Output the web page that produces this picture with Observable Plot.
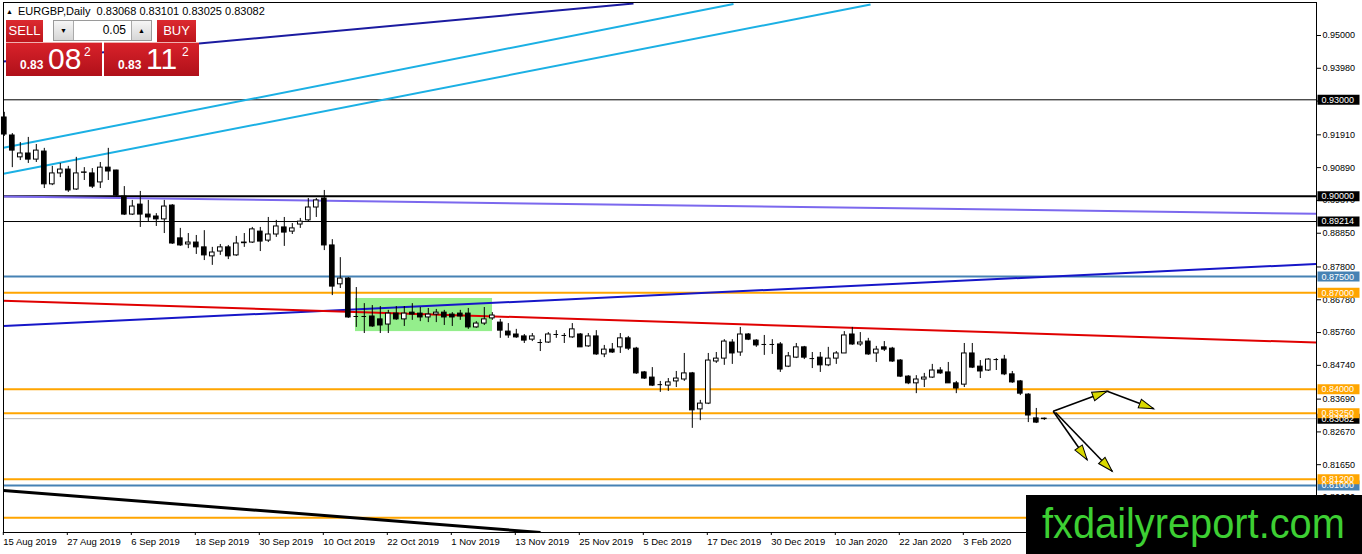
<!DOCTYPE html>
<html>
<head>
<meta charset="utf-8">
<script src="https://cdn.jsdelivr.net/npm/d3@7"></script>
<script src="https://cdn.jsdelivr.net/npm/@observablehq/plot@0.6"></script>
<style>
html,body{margin:0;padding:0;background:#fff;}
#wrap{position:relative;width:1362px;height:554px;overflow:hidden;font-family:"Liberation Sans",Arial,sans-serif;}
#chart svg{display:block;}
#hdr{position:absolute;left:6px;top:5px;font-size:11px;line-height:12px;white-space:nowrap;color:#000;}
#hdr .tri{font-size:7px;position:relative;top:-1px;margin-right:5px;}
.btn{position:absolute;top:20px;height:22px;background:linear-gradient(#dc2a30,#bc141b);color:#fff;font-size:13px;line-height:22px;text-align:center;}
.sell{left:6px;width:37px;}
.buy{left:157px;width:39px;}
.ctl{position:absolute;left:53px;top:20px;width:99px;height:21px;background:#fff;border:1px solid #9a9a9a;box-sizing:border-box;}
.ctl .dn,.ctl .up{position:absolute;top:0;width:19px;height:19px;background:linear-gradient(#f6f6f6,#d6d6d6);font-size:7px;line-height:19px;text-align:center;color:#000;}
.ctl .dn{left:0;border-right:1px solid #aaa;}
.ctl .up{right:0;border-left:1px solid #aaa;}
.ctl .lot{position:absolute;right:25px;top:0;line-height:19px;font-size:12px;color:#000;}
.px{position:absolute;top:42px;height:34px;background:linear-gradient(#d8222a,#b0101a);color:#fff;border-top:1px solid #f0b0b0;box-sizing:border-box;}
.pl{left:6px;width:96px;}
.pr{left:104px;width:95px;}
.px .sm{position:absolute;left:14px;top:15px;font-size:12px;font-weight:bold;line-height:14px;}
.px .big{position:absolute;left:42px;top:1px;font-size:30px;line-height:30px;}
.px .sup{position:absolute;left:78px;top:3px;font-size:12px;line-height:12px;}
#banner{position:absolute;left:1026px;top:495px;width:336px;height:59px;background:#000;}
#banner span{position:absolute;left:16px;top:4px;font-size:43px;line-height:48px;color:#3dcf33;transform:scaleX(0.925);transform-origin:left top;white-space:nowrap;}
</style>
</head>
<body>
<div id="wrap">
  <div id="chart"></div>
  <div id="hdr"><span class="tri">▲</span>EURGBP,Daily&nbsp; 0.83068 0.83101 0.83025 0.83082</div>
  <div class="btn sell">SELL</div>
  <div class="ctl"><span class="dn">▼</span><span class="lot">0.05</span><span class="up">▲</span></div>
  <div class="btn buy">BUY</div>
  <div class="px pl"><span class="sm">0.83</span><span class="big">08</span><span class="sup">2</span></div>
  <div class="px pr"><span class="sm">0.83</span><span class="big">11</span><span class="sup">2</span></div>
  <div id="banner"><span>fxdailyreport.com</span></div>
</div>
<script>
// ---- Daily candles (bar index 0 = 15 Aug 2019) ----
const open = [0.9245,0.9189,0.9121,0.9133,0.9114,0.9139,0.9037,0.9071,0.9083,0.9021,
0.9074,0.9071,0.9043,0.9089,0.9080,0.8999,0.8943,0.8974,0.8943,0.8937,
0.8928,0.8971,0.8869,0.8850,0.8856,0.8841,0.8813,0.8828,0.8841,0.8816,
0.8856,0.8856,0.8890,0.8862,0.8881,0.8903,0.8890,0.8912,0.8925,0.8965,
0.8993,0.8847,0.8726,0.8744,0.8626,0.8626,0.8626,0.8617,0.8601,0.8635,
0.8617,0.8638,0.8635,0.8623,0.8632,0.8638,0.8632,0.8635,0.8635,0.8592,
0.8604,0.8620,0.8607,0.8579,0.8570,0.8564,0.8554,0.8545,0.8545,0.8570,
0.8567,0.8561,0.8570,0.8533,0.8564,0.8508,0.8523,0.8530,0.8558,0.8526,
0.8452,0.8436,0.8414,0.8411,0.8424,0.8430,0.8449,0.8337,0.8355,0.8486,
0.8495,0.8545,0.8514,0.8570,0.8551,0.8539,0.8539,0.8539,0.8470,0.8498,
0.8530,0.8495,0.8498,0.8474,0.8495,0.8511,0.8570,0.8539,0.8548,0.8511,
0.8530,0.8526,0.8489,0.8439,0.8418,0.8430,0.8436,0.8458,0.8452,0.8418,
0.8414,0.8511,0.8470,0.8458,0.8492,0.8492,0.8446,0.8424,0.8383,0.8309,
0.83068];
const high = [0.9261,0.9195,0.9167,0.9183,0.9161,0.9149,0.9093,0.9102,0.9093,0.9121,
0.9089,0.9086,0.9105,0.9149,0.9081,0.9030,0.8987,0.9015,0.8987,0.8946,
0.8987,0.8974,0.8900,0.8884,0.8878,0.8893,0.8841,0.8850,0.8847,0.8875,
0.8884,0.8903,0.8903,0.8934,0.8925,0.8934,0.8915,0.8931,0.8993,0.8993,
0.9018,0.8865,0.8809,0.8747,0.8716,0.8666,0.8660,0.8657,0.8645,0.8657,
0.8657,0.8666,0.8654,0.8651,0.8648,0.8645,0.8638,0.8645,0.8651,0.8610,
0.8654,0.8638,0.8617,0.8604,0.8586,0.8570,0.8573,0.8554,0.8576,0.8582,
0.8573,0.8604,0.8573,0.8573,0.8582,0.8536,0.8542,0.8573,0.8564,0.8530,
0.8455,0.8467,0.8424,0.8433,0.8455,0.8511,0.8452,0.8365,0.8511,0.8514,
0.8554,0.8554,0.8592,0.8573,0.8554,0.8567,0.8554,0.8545,0.8514,0.8542,
0.8533,0.8514,0.8514,0.8530,0.8517,0.8579,0.8592,0.8576,0.8558,0.8533,
0.8548,0.8530,0.8492,0.8442,0.8442,0.8449,0.8477,0.8467,0.8483,0.8424,
0.8542,0.8542,0.8489,0.8495,0.8495,0.8505,0.8455,0.8427,0.8386,0.8340,
0.83101];
const low = [0.9186,0.9089,0.9111,0.9102,0.9105,0.9024,0.9033,0.9058,0.9012,0.9018,
0.9049,0.9024,0.9024,0.9049,0.8999,0.8940,0.8940,0.8903,0.8921,0.8906,
0.8884,0.8850,0.8844,0.8837,0.8819,0.8800,0.8785,0.8816,0.8803,0.8813,
0.8841,0.8853,0.8828,0.8856,0.8872,0.8844,0.8881,0.8900,0.8921,0.8934,
0.8831,0.8691,0.8713,0.8620,0.8592,0.8573,0.8592,0.8573,0.8573,0.8614,
0.8595,0.8614,0.8610,0.8607,0.8607,0.8598,0.8595,0.8614,0.8586,0.8589,
0.8598,0.8614,0.8558,0.8558,0.8558,0.8542,0.8548,0.8517,0.8542,0.8558,
0.8542,0.8558,0.8530,0.8530,0.8505,0.8498,0.8511,0.8511,0.8520,0.8446,
0.8430,0.8408,0.8390,0.8393,0.8405,0.8424,0.8278,0.8302,0.8352,0.8480,
0.8474,0.8477,0.8502,0.8551,0.8530,0.8505,0.8508,0.8452,0.8467,0.8495,
0.8492,0.8464,0.8452,0.8470,0.8477,0.8511,0.8536,0.8533,0.8505,0.8483,
0.8517,0.8483,0.8436,0.8414,0.8386,0.8405,0.8433,0.8446,0.8418,0.8386,
0.8405,0.8464,0.8433,0.8455,0.8458,0.8442,0.8418,0.8380,0.8296,0.8293,
0.83025];
const close = [0.9192,0.9142,0.9133,0.9114,0.9142,0.9037,0.9071,0.9083,0.9018,0.9071,
0.9073,0.9030,0.9089,0.9077,0.9002,0.8943,0.8968,0.8943,0.8934,0.8928,
0.8968,0.8853,0.8847,0.8856,0.8841,0.8816,0.8825,0.8841,0.8813,0.8853,
0.8854,0.8897,0.8859,0.8881,0.8906,0.8887,0.8900,0.8921,0.8965,0.8987,
0.8847,0.8719,0.8744,0.8623,0.8626,0.8626,0.8595,0.8598,0.8635,0.8617,
0.8635,0.8632,0.8623,0.8632,0.8638,0.8623,0.8623,0.8626,0.8592,0.8604,
0.8617,0.8629,0.8582,0.8567,0.8561,0.8551,0.8564,0.8545,0.8570,0.8570,
0.8567,0.8586,0.8530,0.8564,0.8508,0.8523,0.8514,0.8558,0.8526,0.8449,
0.8433,0.8411,0.8414,0.8421,0.8433,0.8449,0.8334,0.8355,0.8489,0.8495,
0.8548,0.8511,0.8570,0.8554,0.8536,0.8539,0.8539,0.8461,0.8502,0.8530,
0.8498,0.8495,0.8474,0.8495,0.8511,0.8567,0.8539,0.8545,0.8508,0.8523,
0.8523,0.8486,0.8439,0.8418,0.8430,0.8436,0.8458,0.8449,0.8418,0.8402,
0.8511,0.8467,0.8455,0.8492,0.8492,0.8446,0.8421,0.8386,0.8318,0.8296,
0.83082];

// ---- Axis ticks ----
const dateTickIdx = [0,8,16,24,32,40,48,56,64,72,80,88,96,104,112,120];
const dateTickLabels = ["15 Aug 2019","27 Aug 2019","6 Sep 2019","18 Sep 2019","30 Sep 2019","10 Oct 2019","22 Oct 2019","1 Nov 2019","13 Nov 2019","25 Nov 2019","5 Dec 2019","17 Dec 2019","30 Dec 2019","10 Jan 2020","22 Jan 2020","3 Feb 2020"];
const priceTicks = [0.95,0.9398,0.9296,0.9191,0.9089,0.8987,0.8885,0.878,0.8678,0.8576,0.8474,0.8369,0.8267,0.8165,0.8063];

// ---- Horizontal levels ----
const levelPrices = [0.93,0.90,0.89214,0.875,0.87,0.84,0.8325,0.812,0.81,0.80];
const levelKinds  = ["black","blackBold","black","steel","orange","orange","orange","orange","steel","orange"];
const bidPrice = 0.83082;
// price labels on the right scale, in drawing order
const tagPrices = [0.83082,0.81,0.812,0.8325,0.84,0.87,0.875,0.89214,0.90,0.93];
const tagKinds  = ["black","steel","orange","orange","orange","orange","steel","black","black","black"];

// ---- Trend lines: [bar index, price] ----
const trendNames = ["navy","cyanUpper","cyanLower","purple","blue","red","blackDiag"];
const trendStart = [[-0.1,0.94191],[-0.1,0.91507],[-0.1,0.90698],[-0.1,0.89992],[-0.1,0.85964],[-0.1,0.86748],[-0.1,0.80848]];
const trendEnd   = [[78.65,0.95995],[91.15,0.95980],[108.28,0.95964],[164.03,0.89454],[164.03,0.87893],[164.03,0.85448],[67.03,0.79541]];

// ---- Consolidation zone ----
const zoneIdx = [43.9, 61.03];
const zonePrice = [0.8579, 0.8682];

// ---- Projection arrows: [bar index, price] ----
const arrowStart = [[131.11,0.83314],[137.86,0.83936],[131.11,0.83314],[131.4,0.83274]];
const arrowEnd   = [[137.86,0.83936],[143.69,0.83389],[135.36,0.81802],[138.49,0.81448]];

// ================= drawing =================
const W = 1362, H = 554, mL = 3, mR = 46, mT = 2, mB = 22;
const xDomain = [-0.1, 164.025], yDomain = [0.795412, 0.960264];
const xs = d3.scaleLinear(xDomain, [mL, W - mR]);
const ys = d3.scaleLinear(yDomain, [H - mB, mT]);

const kindColor = {black:"#000000", blackBold:"#000000", steel:"#4682b4", orange:"#ffa500"};
const kindWidth = {black:1, blackBold:2, steel:2, orange:2};
const trendStyle = {
  navy:{stroke:"#1b1ba0", w:2}, cyanUpper:{stroke:"#1bb0e4", w:2}, cyanLower:{stroke:"#1bb0e4", w:2},
  purple:{stroke:"#7b68ee", w:2}, blue:{stroke:"#1616c8", w:2}, red:{stroke:"#e00000", w:2}, blackDiag:{stroke:"#000", w:3}
};

const candles = open.map((o, i) => ({i, o, h: high[i], l: low[i], c: close[i]}));
const isDoji = d => Math.abs(d.o - d.c) < 0.00005;
const ups = candles.filter(d => !isDoji(d) && d.c > d.o);
const downs = candles.filter(d => !isDoji(d) && d.c < d.o);
const dojis = candles.filter(isDoji);
const bw = 0.29;

const levels = levelPrices.map((p, k) => ({p, kind: levelKinds[k]}));
const tags = tagPrices.map((p, k) => ({p, bg: kindColor[tagKinds[k]]}));
const trends = trendNames.map((n, k) => ({n, x1: trendStart[k][0], y1: trendStart[k][1], x2: trendEnd[k][0], y2: trendEnd[k][1]}));
const arrows = arrowStart.map((s, k) => {
  const e = arrowEnd[k];
  const dx = xs(e[0]) - xs(s[0]), dy = ys(e[1]) - ys(s[1]);
  return {x1: s[0], y1: s[1], x2: e[0], y2: e[1], rot: Math.atan2(dx, -dy) * 180 / Math.PI};
});
const zone = [{x1: zoneIdx[0], x2: zoneIdx[1], y1: zonePrice[0], y2: zonePrice[1]}];

const headSymbol = {draw(ctx) { ctx.moveTo(0, 0); ctx.lineTo(4.5, 15); ctx.lineTo(-4.5, 15); ctx.closePath(); }};
const tagSymbol = {draw(ctx) { ctx.rect(1, -5, 42, 10); }};
const labelMap = new Map(dateTickIdx.map((d, k) => [d, dateTickLabels[k]]));
const fmt5 = d3.format(".5f");

const chart = Plot.plot({
  width: W, height: H,
  marginLeft: mL, marginRight: mR, marginTop: mT, marginBottom: mB,
  x: {domain: xDomain},
  y: {domain: yDomain},
  color: {type: "identity"},
  style: {fontFamily: "'Liberation Sans', Arial, sans-serif", fontSize: "9px", color: "#000", background: "#fff", overflow: "visible"},
  marks: [
    Plot.rect(zone, {x1: "x1", x2: "x2", y1: "y1", y2: "y2", fill: "#94ee8c"}),
    Plot.ruleY(levels, {y: "p", stroke: d => kindColor[d.kind], strokeWidth: d => kindWidth[d.kind]}),
    Plot.ruleY([bidPrice], {stroke: "#b8b8b8", strokeWidth: 1}),
    Plot.link(trends, {x1: "x1", y1: "y1", x2: "x2", y2: "y2", stroke: d => trendStyle[d.n].stroke, strokeWidth: d => trendStyle[d.n].w, clip: true}),
    Plot.ruleX(candles, {x: "i", y1: "l", y2: "h", stroke: "#000", strokeWidth: 1}),
    Plot.rect(downs, {x1: d => d.i - bw, x2: d => d.i + bw, y1: "o", y2: "c", fill: "#000", stroke: "#000", strokeWidth: 1}),
    Plot.rect(ups, {x1: d => d.i - bw, x2: d => d.i + bw, y1: "o", y2: "c", fill: "#fff", stroke: "#000", strokeWidth: 1}),
    Plot.ruleY(dojis, {x1: d => d.i - bw, x2: d => d.i + bw, y: "c", stroke: "#000", strokeWidth: 1}),
    Plot.link(arrows, {x1: "x1", y1: "y1", x2: "x2", y2: "y2", stroke: "#000", strokeWidth: 1.6}),
    Plot.dot(arrows, {x: "x2", y: "y2", symbol: headSymbol, rotate: "rot", fill: "#d8d800", stroke: "#000", strokeWidth: 1}),
    Plot.axisX({ticks: dateTickIdx, tickFormat: d => labelMap.get(d), textAnchor: "start", tickSize: 3, tickPadding: 3, fontSize: 9.5, dx: -1, label: null}),
    Plot.axisY({anchor: "right", ticks: priceTicks, tickFormat: fmt5, tickSize: 4, tickPadding: 2, fontSize: 9, label: null}),
    Plot.dot(tags, {y: "p", frameAnchor: "right", symbol: tagSymbol, fill: "bg", stroke: null}),
    Plot.text(tags, {y: "p", frameAnchor: "right", text: d => fmt5(d.p), textAnchor: "start", dx: 5, fill: "#fff", fontSize: 9}),
    Plot.frame({stroke: "#000"})
  ]
});
document.getElementById("chart").appendChild(chart);
</script>
</body>
</html>
